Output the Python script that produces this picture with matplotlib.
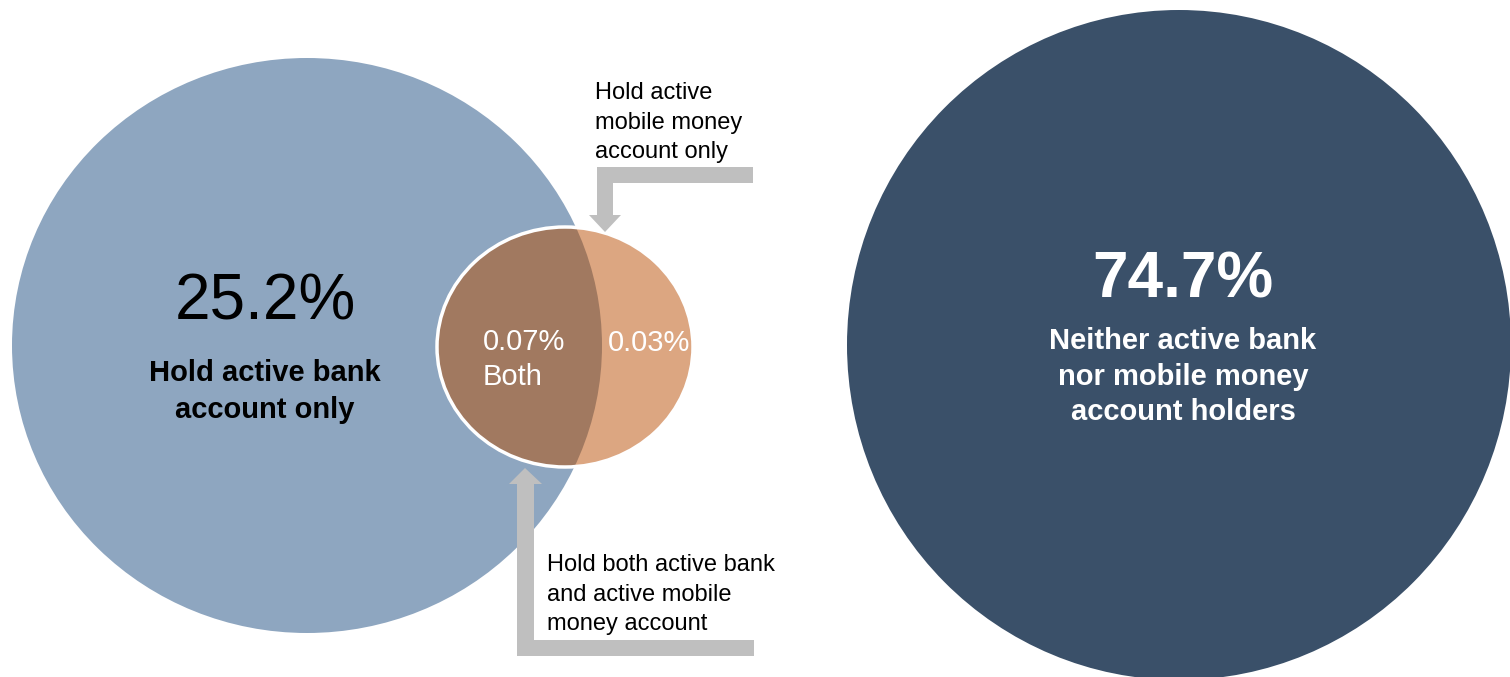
import matplotlib.pyplot as plt
from matplotlib.patches import Ellipse, Polygon

plt.rcParams['font.family'] = ['Liberation Sans', 'DejaVu Sans']

# Share of adults by type of active account (%)
groups = ['bank_only', 'both', 'mobile_only', 'neither']
shares = [25.2, 0.07, 0.03, 74.7]
captions = {
    'bank_only': 'Hold active bank\naccount only',
    'both': 'Both',
    'neither': 'Neither active bank\nnor mobile money\naccount holders',
}
callouts = {
    'mobile_only': 'Hold active\nmobile money\naccount only',
    'both': 'Hold both active bank\nand active mobile\nmoney account',
}
pct = {g: f"{v}%" for g, v in zip(groups, shares)}

BLUE = '#8EA6C0'
NAVY = '#3A5069'
DARK_BROWN = '#A17960'
LIGHT_BROWN = '#DCA681'
GREY = '#BFBFBF'

fig = plt.figure(figsize=(15.1, 6.77), dpi=100)
ax = fig.add_axes([0, 0, 1, 1])
ax.set_xlim(0, 1510)
ax.set_ylim(677, 0)
ax.axis('off')

# big circles
bank = Ellipse((307, 345.5), 590, 575, facecolor=BLUE, edgecolor='none', zorder=1)
ax.add_patch(bank)
ax.add_patch(Ellipse((1179, 345), 664, 670, facecolor=NAVY, edgecolor='none', zorder=1))

# small mobile money circle, darker where it overlaps the bank circle
mobile = Ellipse((565, 347), 256, 240, facecolor=LIGHT_BROWN, edgecolor='none', zorder=2)
ax.add_patch(mobile)
overlap = Ellipse((307, 345.5), 590, 575, facecolor=DARK_BROWN, edgecolor='none', zorder=3)
ax.add_patch(overlap)
overlap.set_clip_path(mobile)
ax.add_patch(Ellipse((565, 347), 256, 240, facecolor='none', edgecolor='white', lw=2.5, zorder=4))

# callout arrows
top_arrow = [(753, 167), (597, 167), (597, 215), (589, 215), (605, 232),
             (621, 215), (613, 215), (613, 183), (753, 183)]
bottom_arrow = [(754, 656), (517, 656), (517, 484), (509, 484), (525, 468),
                (542, 484), (534, 484), (534, 640), (754, 640)]
for pts in (top_arrow, bottom_arrow):
    ax.add_patch(Polygon(pts, closed=True, facecolor=GREY, edgecolor='none', zorder=5))

# labels (va='baseline' puts the last line on y)
ax.text(265, 320, pct['bank_only'], ha='center', va='baseline', fontsize=46, color='black', zorder=6)
ax.text(265, 418, captions['bank_only'], ha='center', va='baseline', fontsize=21,
        fontweight='bold', linespacing=1.4, color='black', zorder=6)

ax.text(1183, 297, pct['neither'], ha='center', va='baseline', fontsize=46,
        fontweight='bold', color='white', zorder=6)
ax.text(1183, 420, captions['neither'], ha='center', va='baseline', fontsize=21,
        fontweight='bold', linespacing=1.34, color='white', zorder=6)

ax.text(483, 385, pct['both'] + '\n' + captions['both'], ha='left', va='baseline',
        fontsize=21, linespacing=1.3, color='white', zorder=6)
ax.text(608, 351, pct['mobile_only'], ha='left', va='baseline', fontsize=21, color='white', zorder=6)

ax.text(595, 158, callouts['mobile_only'], ha='left', va='baseline', fontsize=17,
        linespacing=1.43, color='black', zorder=6)
ax.text(547, 630, callouts['both'], ha='left', va='baseline', fontsize=17,
        linespacing=1.43, color='black', zorder=6)

fig.savefig('out.png', dpi=100)
